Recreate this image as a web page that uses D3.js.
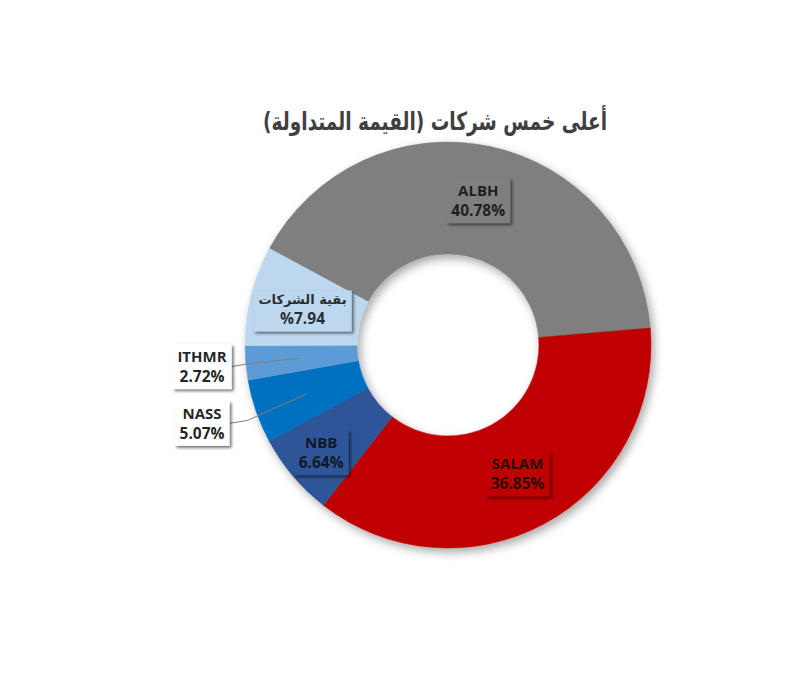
<!DOCTYPE html>
<html>
<head>
<meta charset="utf-8">
<script src="https://cdn.jsdelivr.net/npm/d3@7"></script>
<style>
  body { margin: 0; background: #fff; }
  svg { display: block; }
</style>
</head>
<body>
<div id="chart"></div>
<script>
// top five companies by traded value
var companies = ["ALBH", "SALAM", "NBB", "NASS", "ITHMR", "بقية الشركات"];
var shares = [40.78, 36.85, 6.64, 5.07, 2.72, 7.94];
var shareLabels = ["40.78%", "36.85%", "6.64%", "5.07%", "2.72%", "%7.94"];
var title = "أعلى خمس شركات (القيمة المتداولة)";

var colors = ["#7f7f7f", "#c00000", "#2f5597", "#0070c0", "#5b9bd5", "#bdd7ee"];
// labels that sit outside the ring with a leader line
var outside = { "NASS": true, "ITHMR": true };
// radius the inside labels are centred on
var labelRadius = { "ALBH": 148, "SALAM": 146, "NBB": 166, "بقية الشركات": 150 };

var width = 800,
    height = 680,
    cx = 448,
    cy = 345,
    outerR = 203,
    innerR = 91,
    startDeg = -61.6;

var svg = d3.select("#chart").append("svg")
    .attr("width", width)
    .attr("height", height);

var defs = svg.append("defs");
defs.append("filter")
    .attr("id", "ringShadow")
    .attr("x", "-20%").attr("y", "-20%")
    .attr("width", "140%").attr("height", "140%")
    .append("feDropShadow")
    .attr("dx", 3).attr("dy", 4)
    .attr("stdDeviation", 5)
    .attr("flood-color", "#000")
    .attr("flood-opacity", 0.35);
defs.append("filter")
    .attr("id", "boxShadow")
    .attr("x", "-30%").attr("y", "-30%")
    .attr("width", "160%").attr("height", "160%")
    .append("feDropShadow")
    .attr("dx", 2).attr("dy", 2)
    .attr("stdDeviation", 1.6)
    .attr("flood-color", "#000")
    .attr("flood-opacity", 0.55);

svg.append("text")
    .attr("x", 435)
    .attr("y", 130)
    .attr("direction", "rtl")
    .attr("text-anchor", "middle")
    .attr("textLength", 344)
    .attr("lengthAdjust", "spacingAndGlyphs")
    .style("font-family", "'DejaVu Sans', sans-serif")
    .style("font-weight", "bold")
    .style("font-size", "25px")
    .style("fill", "#3f3f3f")
    .text(title);

var data = companies.map(function (c, i) {
    return { name: c, value: shares[i], label: shareLabels[i], color: colors[i] };
});

var start = startDeg * Math.PI / 180;
var pie = d3.pie()
    .sort(null)
    .value(function (d) { return d.value; })
    .startAngle(start)
    .endAngle(start + 2 * Math.PI);

var arcs = pie(data);

var arc = d3.arc()
    .innerRadius(innerR)
    .outerRadius(outerR);

var g = svg.append("g")
    .attr("transform", "translate(" + cx + "," + cy + ")");

g.append("g")
    .attr("filter", "url(#ringShadow)")
    .selectAll("path")
    .data(arcs)
    .enter()
    .append("path")
    .attr("d", arc)
    .attr("fill", function (d) { return d.data.color; })
    .attr("stroke", function (d) { return d.data.color; })
    .attr("stroke-width", 0.5);

var polar = function (a, r) {
    return [Math.sin(a) * r, -Math.cos(a) * r];
};

var labels = g.selectAll(".lbl")
    .data(arcs)
    .enter()
    .append("g")
    .attr("class", "lbl");

labels.each(function (d) {
    var sel = d3.select(this),
        mid = (d.startAngle + d.endAngle) / 2,
        isOut = outside[d.data.name],
        pos, anchorIn;

    if (isOut) {
        anchorIn = polar(mid, 150);
        var far = polar(mid, 238);
        pos = [-246, far[1]];
    } else {
        pos = polar(mid, labelRadius[d.data.name]);
    }

    var arabic = /[\u0600-\u06FF]/.test(d.data.name);
    var box = sel.append("rect")
        .attr("fill", isOut ? "#fff" : d.data.color)
        .attr("filter", "url(#boxShadow)");

    var txt = sel.append("text")
        .attr("text-anchor", "middle")
        .style("font-weight", "bold")
        .style("fill", "#0d0d0d")
        .style("fill-opacity", isOut ? 0.92 : 0.85);

    txt.append("tspan")
        .attr("x", pos[0])
        .attr("y", pos[1] - 4)
        .attr("direction", arabic ? "rtl" : null)
        .style("font-family", arabic ? "'DejaVu Sans', sans-serif" : "'Open Sans', sans-serif")
        .style("font-size", arabic ? "13px" : "15px")
        .text(d.data.name);
    txt.append("tspan")
        .attr("x", pos[0])
        .attr("y", pos[1] + 16)
        .style("font-family", "'Open Sans', sans-serif")
        .style("font-size", "15.5px")
        .text(d.data.label);

    var bb = txt.node().getBBox();
    var padX = 5, padY = 2;
    var bw = bb.width + padX * 2, bh = bb.height + padY * 2;
    box.attr("x", pos[0] - bw / 2)
        .attr("y", bb.y - padY)
        .attr("width", bw)
        .attr("height", bh);

    if (isOut) {
        var edge = [pos[0] + bw / 2, bb.y - padY + bh / 2];
        sel.insert("polyline", "rect")
            .attr("points", [edge, [edge[0] + 18, edge[1] - 3], anchorIn].map(function (p) { return p.join(","); }).join(" "))
            .attr("fill", "none")
            .attr("stroke", "#7f7f7f")
            .attr("stroke-width", 1);
    }
});
</script>
</body>
</html>
